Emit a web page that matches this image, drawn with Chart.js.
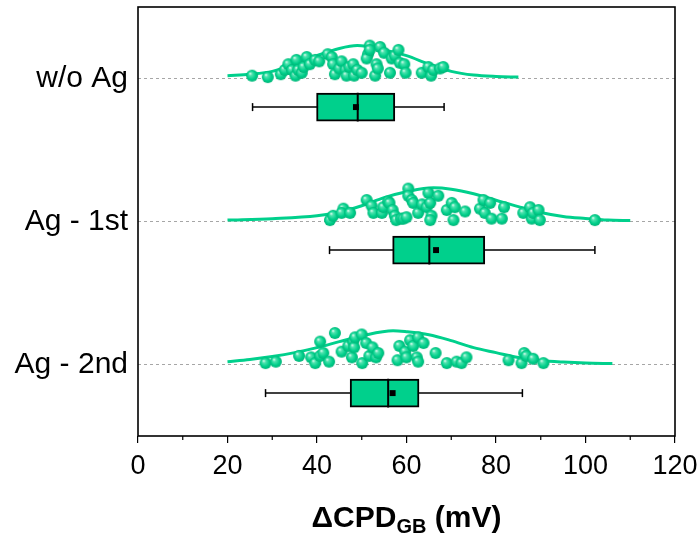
<!DOCTYPE html>
<html>
<head>
<meta charset="utf-8">
<script src="https://cdn.jsdelivr.net/npm/chart.js@4"></script>
<style>
  html, body { margin: 0; padding: 0; background: #fff; }
  #wrap { width: 699px; height: 540px; }
</style>
</head>
<body>
<div id="wrap"><canvas id="myChart"></canvas></div>
<script>
// categories (top to bottom)
const groups = ["w/o Ag", "Ag - 1st", "Ag - 2nd"];
const xTickValues = [0, 20, 40, 60, 80, 100, 120];

// scatter points: [ΔCPD value, jitter above the baseline (y units)]
const woAgPoints = [
  [25.5,0.02],[29,0.01],[31.9,0.03],[32.8,0.06],[33.6,0.10],[34.4,0.06],[35.4,0.13],[35.2,0.02],
  [35.8,0.06],[36.6,0.04],[37,0.08],[37.7,0.15],[38.4,0.10],[39.6,0.13],[40.5,0.12],[42.4,0.17],
  [43.3,0.15],[43.6,0.10],[44,0.03],[45,0.07],[45.5,0.12],[46.4,0.06],[46.6,0.02],[47.2,0.08],
  [48.1,0.10],[48.3,0.02],[49,0.06],[50,0.04],[51.8,0.23],[51.4,0.17],[51.1,0.14],[51.8,0.20],
  [53,0.02],[53.3,0.10],[53.6,0.07],[54.1,0.22],[55,0.18],[56.3,0.04],[56.7,0.14],[57.4,0.16],
  [58.2,0.20],[58.5,0.11],[59.5,0.10],[59.8,0.04],[63.4,0.04],[64.9,0.08],[65.5,0.02],[66,0.06],
  [67.5,0.07],[68.2,0.08]
];
const ag1Points = [
  [42.9,0.01],[43.6,0.04],[45.9,0.09],[45.5,0.06],[47.4,0.06],[51.1,0.15],[52.2,0.11],[52.6,0.06],
  [54.5,0.06],[54.8,0.10],[55.9,0.14],[56.2,0.13],[56.9,0.08],[57.4,0.04],[57.7,0.01],[58.8,0.02],
  [59.3,0.02],[60,0.03],[60.4,0.23],[60.4,0.18],[61.2,0.15],[61.5,0.13],[62.6,0.06],[63.5,0.12],
  [64.9,0.20],[64.5,0.10],[65.3,0.13],[65.6,0.04],[65.3,0.01],[67.1,0.18],[69,0.08],[70.1,0.13],
  [70.5,0.01],[70.8,0.10],[73.1,0.07],[76.4,0.09],[77.2,0.15],[77.5,0.06],[78.7,0.13],[79,0.02],
  [81.3,0.02],[81.8,0.10],[86.1,0.06],[87.6,0.10],[88,0.02],[88.3,0.06],[89.5,0.08],[89.8,0.01],
  [102.1,0.01]
];
const ag2Points = [
  [28.5,0.01],[30.8,0.02],[36,0.06],[38.7,0.05],[39.6,0.01],[40.7,0.16],[40.7,0.06],[41.4,0.08],
  [42.7,0.02],[44,0.22],[45.5,0.09],[47,0.13],[47.8,0.05],[48.1,0.16],[48.3,0.12],[48.5,0.19],
  [50,0.21],[50.1,0.01],[51,0.15],[51.7,0.06],[52.4,0.12],[53.2,0.05],[53.7,0.08],[58,0.03],
  [58.4,0.13],[59.7,0.09],[60,0.05],[60.8,0.17],[61.5,0.13],[62.3,0.05],[62.6,0.02],[62.6,0.19],
  [63.8,0.15],[66.5,0.08],[69,0.01],[71.2,0.02],[72.3,0.01],[73.4,0.05],[82.8,0.03],[85.7,0.01],
  [86.3,0.08],[86.8,0.06],[88.3,0.04],[90.6,0.01]
];

// box stats: [whisker low, Q1, median, Q3, whisker high, mean]
const woAgBox = [25.6, 39.9, 49.1, 57.4, 68.4, 48.7];
const ag1Box  = [42.8, 56.9, 65.1, 77.5, 102.1, 66.6];
const ag2Box  = [28.5, 47.4, 55.9, 62.8, 85.9, 56.9];

// fitted distribution curves: x values and heights (y units)
const woAgCurveX = [20, 25, 30, 35, 40, 45, 49, 55, 60, 65, 70, 75, 80, 85];
const woAgCurveH = [0.02, 0.03, 0.05, 0.10, 0.16, 0.21, 0.23, 0.20, 0.16, 0.10, 0.05, 0.024, 0.014, 0.01];
const ag1CurveX = [20, 30, 40, 45, 50, 55, 60, 66, 70, 75, 80, 85, 90, 95, 100, 105, 110];
const ag1CurveH = [0.01, 0.02, 0.04, 0.066, 0.11, 0.167, 0.208, 0.236, 0.226, 0.194, 0.149, 0.104, 0.063, 0.035, 0.021, 0.01, 0.007];
const ag2CurveX = [20, 25, 30, 35, 40, 45, 50, 57, 60, 65, 70, 75, 80, 85, 90, 95, 100, 106];
const ag2CurveH = [0.02, 0.035, 0.056, 0.083, 0.118, 0.16, 0.2, 0.236, 0.229, 0.208, 0.167, 0.118, 0.083, 0.049, 0.028, 0.017, 0.01, 0.007];

const green = "rgb(0, 208, 140)";

// shaded ball used as point style
function makeBall(r) {
  const c = document.createElement("canvas");
  const s = Math.ceil(r * 2 + 2);
  c.width = s; c.height = s;
  const g = c.getContext("2d");
  const m = s / 2;
  const grad = g.createRadialGradient(m - r * 0.35, m - r * 0.4, 0, m, m, r);
  grad.addColorStop(0, "#f4fffa");
  grad.addColorStop(0.28, "#4ee2ae");
  grad.addColorStop(0.7, "#00cf8a");
  grad.addColorStop(1, "#00b478");
  g.fillStyle = grad;
  g.beginPath();
  g.arc(m, m, r, 0, Math.PI * 2);
  g.fill();
  return c;
}
const ball = makeBall(6);

const allPoints = [woAgPoints, ag1Points, ag2Points];
const allBoxes = [woAgBox, ag1Box, ag2Box];
const allCurves = [[woAgCurveX, woAgCurveH], [ag1CurveX, ag1CurveH], [ag2CurveX, ag2CurveH]];

const datasets = [];
groups.forEach((name, i) => {
  const cat = i + 1;
  const b = allBoxes[i];
  const boxY = cat + 0.2;

  datasets.push({
    type: "line",
    label: name + " curve",
    data: allCurves[i][0].map((x, k) => ({ x: x, y: cat - allCurves[i][1][k] })),
    borderColor: green,
    borderWidth: 3,
    pointRadius: 0,
    cubicInterpolationMode: "monotone",
    order: 3
  });
  datasets.push({
    type: "scatter",
    label: name,
    data: allPoints[i].map(p => ({ x: p[0], y: cat - p[1] })),
    pointStyle: ball,
    order: 1
  });
  // whisker line
  datasets.push({
    type: "line",
    label: name + " whisker",
    data: [{ x: b[0], y: boxY }, { x: b[4], y: boxY }],
    borderColor: "#000",
    borderWidth: 1.5,
    pointRadius: 0,
    order: 5
  });
  // whisker caps
  datasets.push({
    type: "scatter",
    label: name + " caps",
    data: [{ x: b[0], y: boxY }, { x: b[4], y: boxY }],
    pointStyle: "line",
    rotation: 90,
    pointRadius: 4,
    borderColor: "#000",
    borderWidth: 1.5,
    order: 5
  });
  // median
  datasets.push({
    type: "line",
    label: name + " median",
    data: [{ x: b[2], y: cat + 0.1 }, { x: b[2], y: cat + 0.3 }],
    borderColor: "#000",
    borderWidth: 2,
    pointRadius: 0,
    order: 0
  });
  // mean
  datasets.push({
    type: "scatter",
    label: name + " mean",
    data: [{ x: b[5], y: boxY }],
    pointStyle: "rect",
    pointRadius: 4.2,
    backgroundColor: "#000",
    borderColor: "#000",
    borderWidth: 0,
    order: 0
  });
});

// boxes (Q1..Q3)
datasets.push({
  type: "bar",
  label: "boxes",
  indexAxis: "y",
  data: allBoxes.map((b, i) => ({ x: [b[1], b[3]], y: i + 1.2 })),
  backgroundColor: green,
  borderColor: "#000",
  borderWidth: 2,
  borderSkipped: false,
  barThickness: 28,
  order: 2
});

const framePlugin = {
  id: "frame",
  afterDraw(chart) {
    const { ctx, chartArea: a, scales } = chart;
    ctx.save();
    ctx.strokeStyle = "#000";
    ctx.lineWidth = 1.6;
    ctx.strokeRect(a.left, a.top, a.right - a.left, a.bottom - a.top);
    // minor ticks
    ctx.lineWidth = 1.2;
    for (let v = 10; v < 120; v += 20) {
      const px = scales.x.getPixelForValue(v);
      ctx.beginPath();
      ctx.moveTo(px, a.bottom);
      ctx.lineTo(px, a.bottom + 4);
      ctx.stroke();
    }
    // axis title with subscript
    const big = "bold 30px Arial, 'Liberation Sans', sans-serif";
    const small = "bold 20px Arial, 'Liberation Sans', sans-serif";
    const p1 = "\u0394CPD", p2 = "GB", p3 = " (mV)";
    ctx.fillStyle = "#000";
    ctx.textBaseline = "alphabetic";
    ctx.font = big;
    const w1 = ctx.measureText(p1).width, w3 = ctx.measureText(p3).width;
    ctx.font = small;
    const w2 = ctx.measureText(p2).width;
    let x0 = (a.left + a.right) / 2 - (w1 + w2 + w3) / 2;
    const base = 527;
    ctx.textAlign = "left";
    ctx.font = big;
    ctx.fillText(p1, x0, base);
    ctx.font = small;
    ctx.fillText(p2, x0 + w1, base + 6);
    ctx.font = big;
    ctx.fillText(p3, x0 + w1 + w2, base);
    ctx.restore();
  }
};

new Chart(document.getElementById("myChart"), {
  type: "scatter",
  data: { datasets: datasets },
  options: {
    responsive: true,
    maintainAspectRatio: false,
    animation: false,
    layout: { padding: { top: 7, right: 24, left: 0, bottom: 0 } },
    plugins: { legend: { display: false }, tooltip: { enabled: false } },
    scales: {
      x: {
        type: "linear",
        min: 0,
        max: 120,
        afterBuildTicks: s => { s.ticks = xTickValues.map(v => ({ value: v })); },
        afterFit: s => { s.height = 104; s.paddingLeft = 0; s.paddingRight = 0; },
        ticks: {
          color: "#000",
          padding: 7,
          font: { family: "Arial, 'Liberation Sans', sans-serif", size: 27 }
        },
        grid: { display: true, drawOnChartArea: false, drawTicks: true, tickLength: 7, color: "#000", lineWidth: 1.2 },
        border: { display: false }
      },
      y: {
        type: "linear",
        min: 0.5,
        max: 3.5,
        reverse: true,
        offset: false,
        afterBuildTicks: s => { s.ticks = [1, 2, 3].map(v => ({ value: v })); },
        afterFit: s => { s.width = 138; s.paddingTop = 0; s.paddingBottom = 0; },
        ticks: {
          color: "#000",
          padding: 10,
          callback: v => groups[v - 1],
          font: { family: "Arial, 'Liberation Sans', sans-serif", size: 30 }
        },
        grid: { offset: false, drawTicks: false, color: "#a6a6a6", lineWidth: 1 },
        border: { display: false, dash: [3, 3] }
      }
    }
  },
  plugins: [framePlugin]
});
</script>
</body>
</html>
